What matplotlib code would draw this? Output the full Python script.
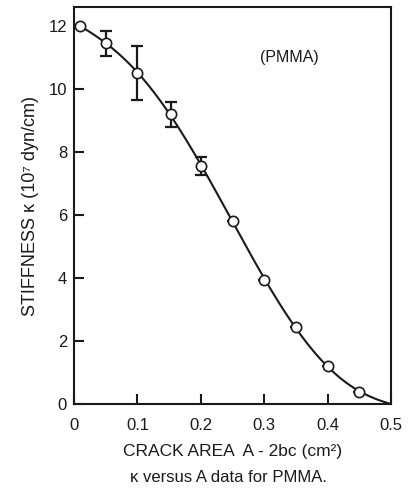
import numpy as np
import matplotlib
matplotlib.use("Agg")
import matplotlib.pyplot as plt

plt.rcParams['font.family'] = ['Liberation Sans', 'DejaVu Sans']

# Measured stiffness vs crack area
area = [0.01, 0.05, 0.10, 0.153, 0.20, 0.25, 0.30, 0.35, 0.40, 0.45]
stiffness = [12.0, 11.45, 10.5, 9.2, 7.55, 5.82, 3.93, 2.45, 1.2, 0.38]
err_upper = [0.0, 0.40, 0.85, 0.40, 0.29, 0.0, 0.0, 0.0, 0.0, 0.0]
err_lower = [0.0, 0.40, 0.84, 0.40, 0.28, 0.0, 0.0, 0.0, 0.0, 0.0]

# Fitted curve end point (stiffness vanishes at full crack)
end_area = 0.5
end_stiffness = 0.0

xticks = [0, 0.1, 0.2, 0.3, 0.4, 0.5]
xtick_labels = ['0', '0.1', '0.2', '0.3', '0.4', '0.5']
yticks = [0, 2, 4, 6, 8, 10, 12]

ink = '#1a1a1a'

fig = plt.figure(figsize=(4.11, 4.96), dpi=100)
ax = fig.add_axes([74 / 411, (496 - 404) / 496, (391 - 74) / 411, (404 - 7) / 496])

# Smooth fit through the measurements
fx = np.array(area + [end_area])
fy = np.array(stiffness + [end_stiffness])
w = np.ones_like(fx)
w[-1] = 20
coef = np.polyfit(fx, fy, 5, w=w)
xs = np.linspace(area[0], end_area, 300)
ax.plot(xs, np.polyval(coef, xs), color=ink, lw=1.5, zorder=2)

ax.errorbar(area, stiffness, yerr=[err_lower, err_upper], fmt='none',
            ecolor=ink, elinewidth=1.6, capsize=4.2, capthick=1.6, zorder=3)
ax.plot(area, stiffness, 'o', ms=7.4, mfc='white', mec=ink, mew=1.2, zorder=4)

ax.set_xlim(0, 0.5)
ax.set_ylim(0, 12.6)
ax.set_xticks(xticks)
ax.set_xticklabels(xtick_labels)
ax.set_yticks(yticks)
ax.tick_params(direction='in', length=7, width=1.5, labelsize=12, colors=ink, pad=5)
ax.tick_params(axis='x', pad=10)
for s in ax.spines.values():
    s.set_linewidth(1.5)
    s.set_color(ink)

ax.text(0.34, 11.0, '(PMMA)', ha='center', va='center', fontsize=11.5, color=ink)

ax.set_ylabel('STIFFNESS κ (10⁷ dyn/cm)', fontsize=13, color=ink, labelpad=7)
ax.set_xlabel('CRACK AREA  A - 2bc (cm²)', fontsize=12.5, color=ink, labelpad=8)

fig.text(228 / 411, 1 - 477 / 496, 'κ versus A data for PMMA.', ha='center', va='center',
         fontsize=12, color=ink)

fig.savefig('out.png', dpi=100)
